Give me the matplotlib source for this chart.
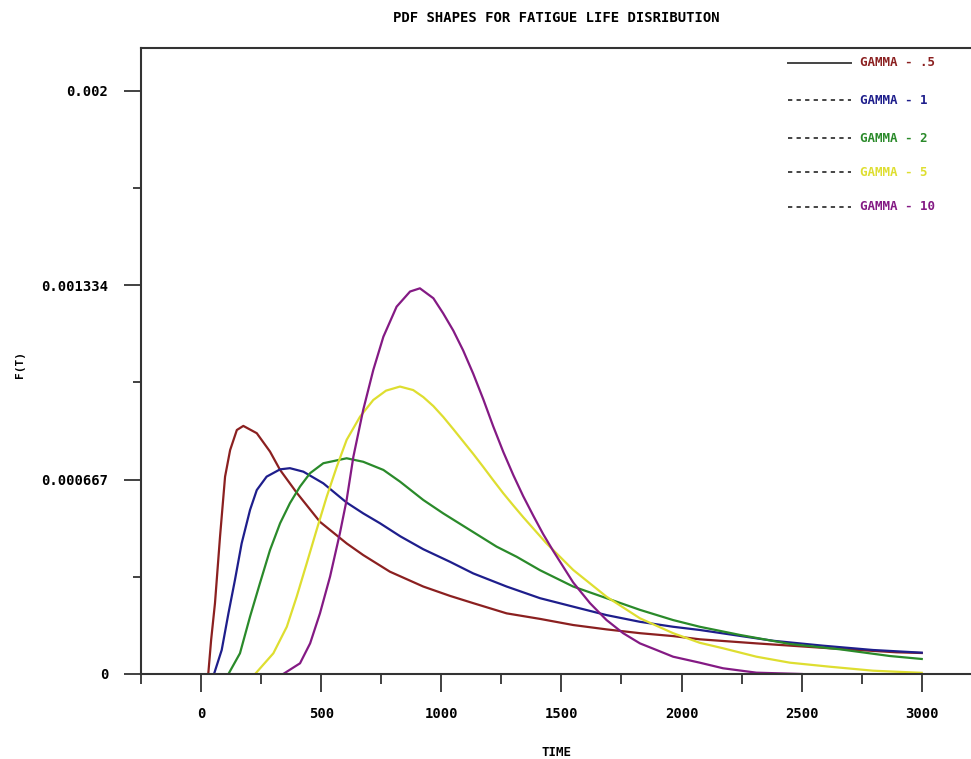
import matplotlib
matplotlib.use("Agg")
import matplotlib.pyplot as plt
from matplotlib.ticker import FixedLocator

# PDF shapes for fatigue life distribution
t_g05 = [30, 42, 58, 79, 100, 121, 149, 176, 232, 287, 329, 398, 495, 606, 675, 786, 925,
         1036, 1133, 1272, 1411, 1549, 1688, 1827, 1965, 2076, 2312, 2617, 2895, 3000]
f_g05 = [0.0, 0.000117, 0.000243, 0.000471, 0.000677, 0.000768, 0.000837, 0.000851, 0.000826,
         0.000763, 0.000700, 0.000622, 0.000522, 0.000448, 0.000408, 0.000351, 0.000300,
         0.000268, 0.000243, 0.000208, 0.000189, 0.000168, 0.000153, 0.000140, 0.000130,
         0.000119, 0.000105, 0.0000882, 0.0000744, 0.0000720]

t_g1 = [54, 86, 114, 141, 169, 204, 232, 273, 329, 370, 426, 509, 606, 675, 745, 830, 925,
        1036, 1133, 1272, 1411, 1549, 1688, 1827, 1965, 2076, 2381, 2589, 2797, 3000]
f_g1 = [0.0, 0.0000823, 0.000208, 0.000322, 0.000448, 0.000563, 0.000631, 0.000677, 0.000702,
        0.000706, 0.000694, 0.000654, 0.000588, 0.000551, 0.000517, 0.000472, 0.000428,
        0.000385, 0.000345, 0.000300, 0.000260, 0.000231, 0.000202, 0.000179, 0.000162,
        0.000151, 0.000114, 0.0000971, 0.0000823, 0.0000731]

t_g2 = [114, 162, 204, 245, 287, 329, 370, 412, 454, 509, 606, 675, 759, 828, 925, 1008, 1119,
        1230, 1314, 1411, 1549, 1688, 1827, 1965, 2076, 2243, 2451, 2659, 2867, 3000]
f_g2 = [0.0, 0.0000710, 0.000197, 0.000311, 0.000425, 0.000517, 0.000586, 0.000643, 0.000689,
        0.000723, 0.000740, 0.000728, 0.000700, 0.000660, 0.000597, 0.000551, 0.000494,
        0.000437, 0.000402, 0.000356, 0.000300, 0.000260, 0.000220, 0.000185, 0.000162,
        0.000134, 0.000103, 0.0000847, 0.0000617, 0.0000515]

t_g5 = [225, 301, 357, 398, 440, 481, 523, 565, 606, 662, 717, 770, 828, 883, 925, 967, 1008,
        1050, 1091, 1133, 1175, 1216, 1258, 1300, 1341, 1383, 1438, 1549, 1688, 1827, 1965,
        2076, 2173, 2312, 2451, 2617, 2797, 3000]
f_g5 = [0.0, 0.0000710, 0.000162, 0.000265, 0.000380, 0.000494, 0.000608, 0.000711, 0.000803,
        0.000883, 0.000940, 0.000972, 0.000986, 0.000974, 0.000950, 0.000919, 0.000882,
        0.000840, 0.000798, 0.000755, 0.000710, 0.000665, 0.000620, 0.000578, 0.000538,
        0.000499, 0.000448, 0.000357, 0.000265, 0.000191, 0.000140, 0.000107, 0.0000882,
        0.0000593, 0.0000388, 0.0000250, 0.0000113, 0.000004]

t_g10 = [342, 412, 454, 495, 537, 578, 606, 634, 675, 717, 759, 814, 870, 911, 967, 1008, 1050,
         1091, 1133, 1175, 1216, 1258, 1300, 1341, 1383, 1424, 1466, 1549, 1619, 1688, 1757,
         1827, 1896, 1965, 2076, 2173, 2312, 2500]
f_g10 = [0.0, 0.0000367, 0.000105, 0.000208, 0.000334, 0.000483, 0.000597, 0.000745, 0.000906,
         0.001043, 0.001157, 0.001260, 0.001312, 0.001323, 0.001289, 0.001237, 0.001178,
         0.001110, 0.001030, 0.000942, 0.000850, 0.000762, 0.000682, 0.000610, 0.000543,
         0.000480, 0.000422, 0.000314, 0.000243, 0.000185, 0.000140, 0.000105, 0.0000823,
         0.0000593, 0.0000388, 0.0000196, 0.0000045, 0.0]

labels = ["GAMMA - .5", "GAMMA - 1", "GAMMA - 2", "GAMMA - 5", "GAMMA - 10"]
colors = ["#8b2020", "#1e1e8c", "#2a8a2a", "#dede30", "#841a84"]
series = [(t_g05, f_g05), (t_g1, f_g1), (t_g2, f_g2), (t_g5, f_g5), (t_g10, f_g10)]

xticks = [0, 500, 1000, 1500, 2000, 2500, 3000]
yticks = [0, 0.000667, 0.001334, 0.002]
ytick_labels = ["0", "0.000667", "0.001334", "0.002"]

FONT = "DejaVu Sans Mono"
plt.rcParams["font.family"] = FONT
plt.rcParams["font.weight"] = "bold"

fig = plt.figure(figsize=(9.71, 7.59), dpi=100)
ax = fig.add_axes([0.1452, 0.1120, 0.8548, 0.8248])

for (t, f), c in zip(series, colors):
    ax.plot(t, f, color=c, lw=1.6, solid_joinstyle="round")

ax.set_xlim(-250, 3205)
ax.set_ylim(0, 0.0021475)

ax.xaxis.set_major_locator(FixedLocator(xticks))
ax.xaxis.set_minor_locator(FixedLocator([-250, 250, 750, 1250, 1750, 2250, 2750]))
ax.yaxis.set_major_locator(FixedLocator(yticks))
ax.yaxis.set_minor_locator(FixedLocator([0.0003335, 0.0010005, 0.0016675]))
ax.set_xticklabels([str(v) for v in xticks])
ax.set_yticklabels(ytick_labels)

ax.tick_params(axis="x", which="major", direction="out", length=13, width=1.3,
               color="#333333", labelsize=10, pad=11)
ax.tick_params(axis="x", which="minor", direction="out", length=7.5, width=1.3, color="#333333")
ax.tick_params(axis="y", which="major", direction="out", length=12.5, width=1.3,
               color="#333333", labelsize=10, pad=11)
ax.tick_params(axis="y", which="minor", direction="out", length=6, width=1.3, color="#333333")

for side in ["left", "bottom", "top"]:
    ax.spines[side].set_color("#333333")
    ax.spines[side].set_linewidth(1.5)
ax.spines["right"].set_visible(False)

# legend drawn by hand, Dataplot style
leg_y = [63, 100, 138, 172, 207]
for i, (lab, c) in enumerate(zip(labels, colors)):
    yf = 1 - leg_y[i] / 759
    ls = "-" if i == 0 else (0, (2.2, 2.2))
    fig.add_artist(plt.Line2D([788 / 971, 851 / 971], [yf, yf], color="#444444",
                              lw=1.4, ls=ls))
    fig.text(860 / 971, yf, lab, color=c, fontsize=9, ha="left", va="center")

fig.text(556 / 971, 1 - 18 / 759, "PDF SHAPES FOR FATIGUE LIFE DISRIBUTION",
         ha="center", va="center", fontsize=10)
fig.text(556 / 971, 1 - 752 / 759, "TIME", ha="center", va="center", fontsize=9)
fig.text(20 / 971, 1 - 365 / 759, "F(T)", ha="center", va="center", fontsize=8, rotation=90)

fig.savefig("out.png", dpi=100)
